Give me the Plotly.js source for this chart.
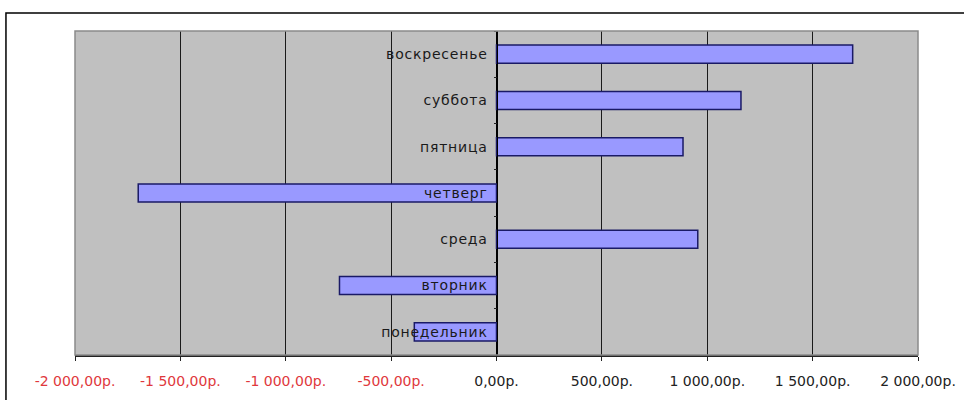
<!DOCTYPE html>
<html><head><meta charset="utf-8">
<script src="https://cdn.plot.ly/plotly-3.0.1.min.js"></script>
<style>
html,body{margin:0;padding:0;background:#fff}
#chart .ytick text{letter-spacing:0.8px}
</style>
</head><body>
<div id="chart" style="width:964px;height:400px"></div>
<script>
const days = ["понедельник","вторник","среда","четверг","пятница","суббота","воскресенье"];
const amounts = [-390,-745,955,-1700,885,1160,1690];
const tickValues = [-2000,-1500,-1000,-500,0,500,1000,1500,2000];
const tickLabels = ["-2 000,00р.","-1 500,00р.","-1 000,00р.","-500,00р.","0,00р.","500,00р.","1 000,00р.","1 500,00р.","2 000,00р."];

const tickText = tickLabels.map((t, i) =>
  tickValues[i] < 0 ? '<span style="color:#e0383c">' + t + '</span>' : t);

const trace = {
  type: 'bar',
  orientation: 'h',
  y: days,
  x: amounts,
  width: 0.39,
  marker: {color: '#9999ff', line: {color: '#1a1a66', width: 1.5}},
  hoverinfo: 'none'
};

const layout = {
  width: 964, height: 400,
  margin: {l: 75, r: 46, t: 31, b: 45, pad: 0},
  paper_bgcolor: '#ffffff',
  plot_bgcolor: '#c0c0c0',
  showlegend: false,
  xaxis: {
    range: [-2000, 2000],
    tickmode: 'array', tickvals: tickValues, ticktext: tickText,
    showgrid: true, gridcolor: '#1a1a1a', gridwidth: 1,
    zeroline: true, zerolinecolor: '#000', zerolinewidth: 1.5,
    showline: true, linecolor: '#222', linewidth: 1.5,
    ticks: 'outside', ticklen: 4, tickcolor: '#222', tickwidth: 1,
    ticklabelstandoff: 9,
    tickfont: {family: 'DejaVu Sans', size: 14, color: '#222'},
    fixedrange: true
  },
  yaxis: {
    type: 'category', categoryorder: 'array', categoryarray: days,
    range: [-0.5, 6.5],
    anchor: 'free', position: 0.5,
    showline: true, linecolor: '#000', linewidth: 1.5,
    ticks: 'outside', tickson: 'boundaries', ticklen: 3, tickcolor: '#222',
    ticklabelstandoff: 6,
    showgrid: false, zeroline: false,
    tickfont: {family: 'DejaVu Sans', size: 14, color: '#1a1a1a'},
    fixedrange: true
  },
  shapes: [
    {type: 'rect', xref: 'paper', yref: 'paper', x0: 0, x1: 1, y0: 0, y1: 1,
     line: {color: '#8a8a8a', width: 1.5}, layer: 'above'},
    {type: 'rect', xref: 'paper', yref: 'paper', x0: -0.0819, x1: 1.5, y0: -0.5, y1: 1.0556,
     line: {color: '#000', width: 1.5}, layer: 'above'}
  ]
};

Plotly.newPlot('chart', [trace], layout, {displayModeBar: false, staticPlot: true});
</script>
</body></html>
